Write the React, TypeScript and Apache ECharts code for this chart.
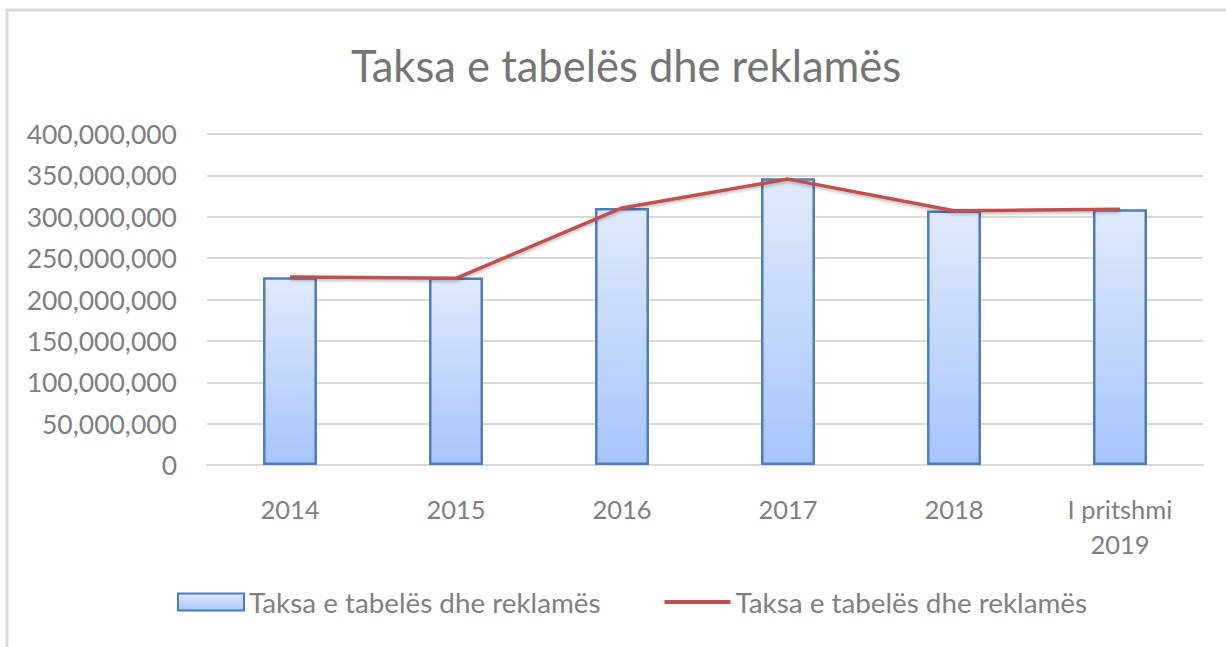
import React, { useEffect, useRef } from "react";
import * as echarts from "echarts";

const titleText = "Taksa e tabelës dhe reklamës";
const categories = ["2014", "2015", "2016", "2017", "2018", "I pritshmi\n2019"];
const barValues = [226800000, 226600000, 310600000, 346500000, 307600000, 309000000];
const lineValues = [227300000, 225600000, 310600000, 345500000, 307200000, 309000000];
const seriesName = "Taksa e tabelës dhe reklamës";

const fmt = (v: number) => v.toLocaleString("en-US");

export default function App() {
  const ref = useRef<HTMLDivElement>(null);
  useEffect(() => {
    if (!ref.current) return;
    const chart = echarts.init(ref.current, undefined, { renderer: "svg" });
    const font = "Lato, 'Liberation Sans', sans-serif";
    chart.setOption({
      animation: false,
      backgroundColor: "#ffffff",
      textStyle: { fontFamily: font },
      graphic: [
        { type: "rect", shape: { x: 7, y: 10, width: 1240, height: 700 }, style: { fill: "none", stroke: "#d9d9d9", lineWidth: 3 }, silent: true },
      ],
      title: {
        text: titleText,
        left: 346,
        top: 38,
        textStyle: { fontFamily: font, fontSize: 43.5, fontWeight: "normal", color: "#757575" },
      },
      legend: {
        bottom: 26,
        left: 172,
        itemGap: 64,
        itemWidth: 66,
        itemHeight: 17,
        textStyle: { fontFamily: font, fontSize: 27.8, color: "#808080", padding: [0, 0, 0, 0] },
        data: [
          { name: seriesName, icon: "rect" },
          { name: seriesName + " ", icon: "path://M0,0 L64,0 L64,4 L0,4 Z", itemStyle: { color: "#c0504d" } },
        ],
      },
      grid: { left: 207, right: 23, top: 134, bottom: 182, containLabel: false },
      xAxis: {
        type: "category",
        data: categories,
        axisLine: { lineStyle: { color: "#d9d9d9", width: 2 } },
        axisTick: { show: false },
        axisLabel: { fontFamily: font, fontSize: 25.5, color: "#7f7f7f", margin: 26, lineHeight: 35 },
      },
      yAxis: {
        type: "value",
        min: 0,
        max: 400000000,
        interval: 50000000,
        axisLine: { show: false },
        axisTick: { show: false },
        splitLine: { lineStyle: { color: "#d9d9d9", width: 2 } },
        axisLabel: { fontFamily: font, fontSize: 26.5, color: "#7f7f7f", margin: 30, formatter: (v: number) => fmt(v) },
      },
      series: [
        {
          name: seriesName,
          type: "bar",
          data: barValues,
          barWidth: "32.5%",
          itemStyle: {
            color: new echarts.graphic.LinearGradient(0, 0, 0, 1, [
              { offset: 0, color: "#e0eafb" },
              { offset: 1, color: "#a6c5fc" },
            ]),
            borderColor: "#4a7ec0",
            borderWidth: 2.5,
          },
        },
        {
          name: seriesName + " ",
          type: "line",
          data: lineValues,
          symbol: "none",
          lineStyle: {
            color: "#c0504d",
            width: 3.5,
            shadowColor: "rgba(0,0,0,0.25)",
            shadowBlur: 3,
            shadowOffsetY: 2,
          },
          itemStyle: { color: "#c0504d" },
        },
      ],
    });
    return () => chart.dispose();
  }, []);
  return <div ref={ref} style={{ position: "fixed", left: 0, top: 0, width: 1226, height: 647 }} />;
}
